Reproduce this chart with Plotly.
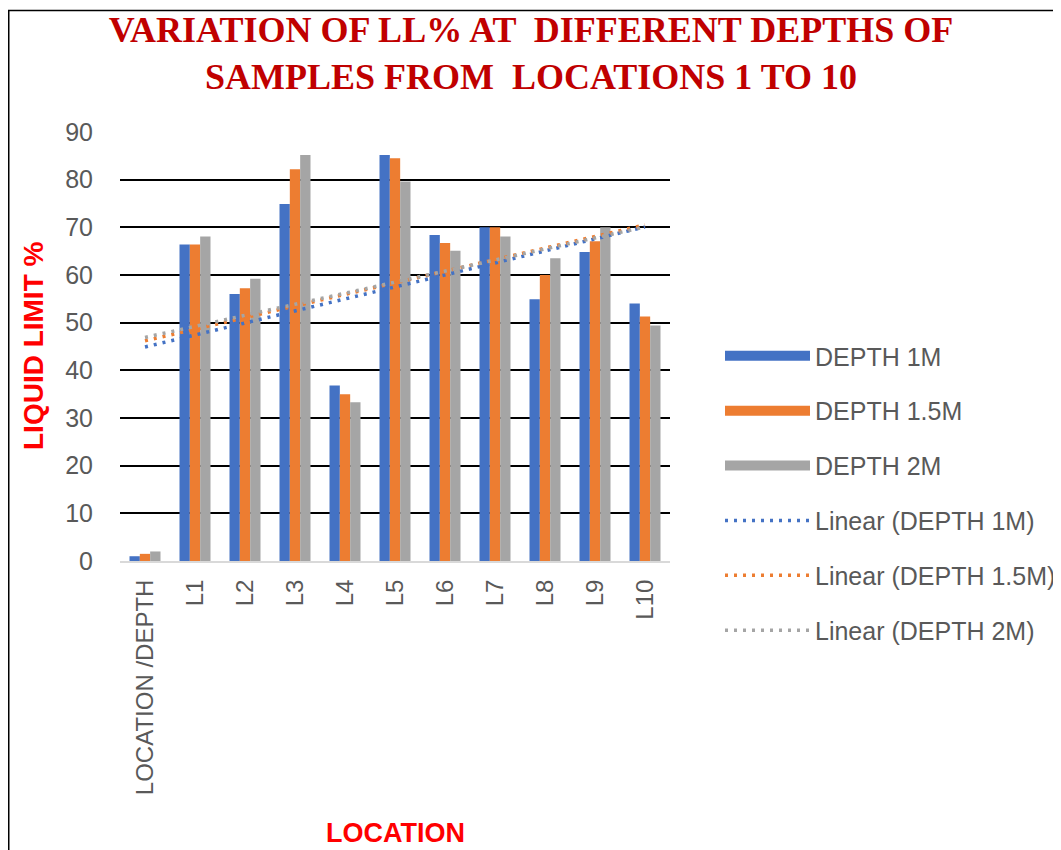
import numpy as np
import plotly.graph_objects as go

categories = ["LOCATION /DEPTH", "L1", "L2", "L3", "L4", "L5", "L6", "L7", "L8", "L9", "L10"]
depth_1m = [1, 66.4, 56.0, 74.9, 36.8, 85.2, 68.4, 70.0, 54.9, 64.8, 54.0]
depth_15m = [1.5, 66.4, 57.2, 82.2, 35.0, 84.5, 66.7, 70.0, 60.0, 67.1, 51.3]
depth_2m = [2, 68.1, 59.2, 85.2, 33.3, 79.6, 65.1, 68.1, 63.5, 70.0, 49.4]
series_names = ["DEPTH 1M", "DEPTH 1.5M", "DEPTH 2M"]
colors = ["#4472C4", "#ED7D31", "#A5A5A5"]

OFF = 8  # default page body margin
W, H = 1061 - OFF, 850 - OFF
L, T = 120 - OFF, 132 - OFF
R = W - (670 - OFF)
B = H - (561 - OFF)
pw, ph = W - L - R, H - T - B

def px_x(p):
    return (p - OFF - L) / pw

def px_y(p):
    return (H - B - (p - OFF)) / ph

fig = go.Figure()
all_series = [depth_1m, depth_15m, depth_2m]
for name, vals, c in zip(series_names, all_series, colors):
    fig.add_trace(go.Bar(x=categories, y=vals, name=name, marker=dict(color=c, line=dict(width=0)),
                         showlegend=False))

# legend entries for bars (wide rectangles)
for i, (name, c) in enumerate(zip(series_names, colors)):
    fig.add_trace(go.Scatter(x=[None], y=[None], mode="lines", name=name,
                             line=dict(color=c, width=15), legendgroup=f"g{i}", showlegend=True))

# linear trendlines (least squares over category index, as in Excel)
xi = np.arange(1, len(categories) + 1)
for i, (name, vals, c) in enumerate(zip(series_names, all_series, colors)):
    m, b = np.polyfit(xi, np.array(vals), 1)
    fig.add_trace(go.Scatter(x=categories, y=m * xi + b, mode="lines", name=f"Linear ({name})",
                             line=dict(color=c, width=3.5, dash="3px,6px"), legendgroup=f"t{i}"))

fig.update_layout(
    width=W, height=H,
    margin=dict(l=L, r=R, t=T, b=B, autoexpand=False),
    paper_bgcolor="white", plot_bgcolor="white",
    barmode="group", bargap=0.38, bargroupgap=0,
    title=dict(text="VARIATION OF LL% AT  DIFFERENT DEPTHS OF<br>SAMPLES FROM  LOCATIONS 1 TO 10",
               x=(531 - OFF) / W, xref="container", xanchor="center",
               y=1 - 34 / H, yref="container", yanchor="top",
               font=dict(family="Liberation Serif", size=36, color="#C00000", weight="bold")),
    font=dict(family="Liberation Sans", color="#595959"),
    showlegend=True,
    legend=dict(x=px_x(720), xanchor="left", y=px_y(493), yanchor="middle",
                font=dict(size=25, color="#595959"), itemwidth=85,
                traceorder="grouped", tracegroupgap=19.4, bgcolor="rgba(0,0,0,0)"),
    xaxis=dict(type="category", tickangle=-90, tickfont=dict(size=24, color="#595959"),
               showgrid=False, showline=True, linecolor="#D9D9D9", linewidth=2,
               ticks="", ticklabelstandoff=7, range=[-0.5, 10.5]),
    yaxis=dict(range=[0, 90], dtick=10, tickfont=dict(size=25, color="#595959"),
               showgrid=True, gridcolor="#000000", gridwidth=1.5, zeroline=False,
               showline=False, ticks="", ticklabelstandoff=26),
    annotations=[
        dict(text="<b>LIQUID LIMIT %</b>", x=px_x(33), y=px_y(346), xref="paper", yref="paper",
             xanchor="center", yanchor="middle",
             textangle=-90, showarrow=False, font=dict(size=28, color="#FF0000", family="Liberation Sans")),
        dict(text="<b>LOCATION</b>", x=0.5, y=px_y(833), xref="paper", yref="paper",
             xanchor="center", yanchor="middle",
             showarrow=False, font=dict(size=27, color="#FF0000", family="Liberation Sans")),
    ],
    shapes=[dict(type="rect", xref="paper", yref="paper", x0=px_x(8.75), x1=px_x(1100),
                 y0=px_y(900), y1=px_y(10.5), line=dict(color="black", width=1.5), layer="below")],
)

fig.write_html("out.html")
